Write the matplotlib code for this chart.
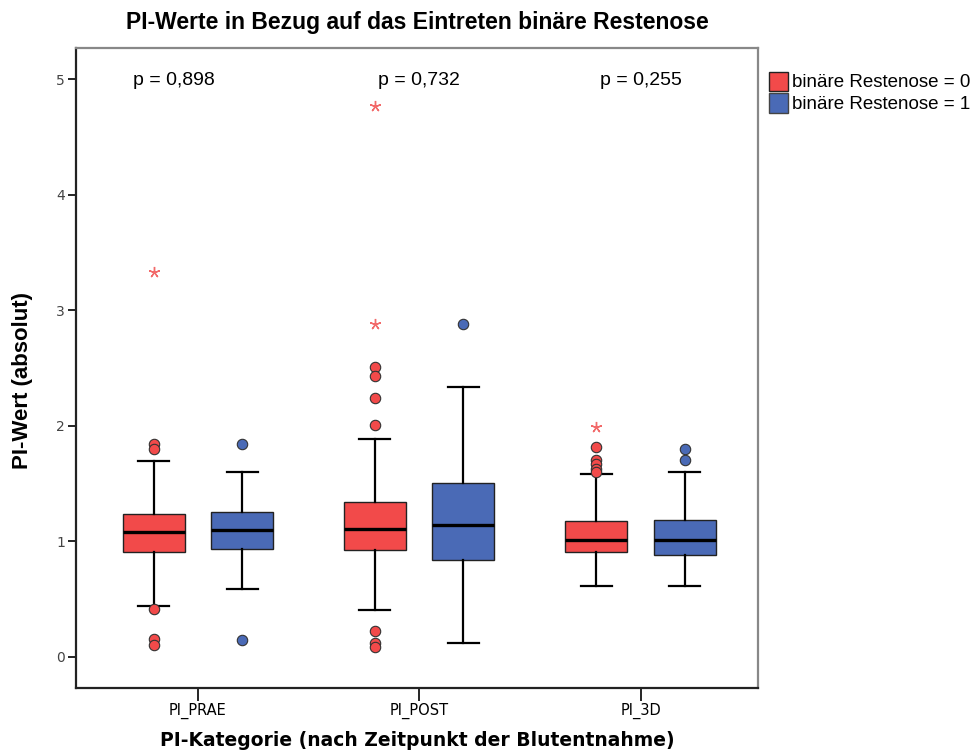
import matplotlib.pyplot as plt
from matplotlib.patches import Patch

# categories and groups
categories = ["PI_PRAE", "PI_POST", "PI_3D"]
groups = ["binäre Restenose = 0", "binäre Restenose = 1"]
p_values = ["p = 0,898", "p = 0,732", "p = 0,255"]

# box statistics per category: (low whisker, q1, median, q3, high whisker)
red_stats = [
    (0.44, 0.906, 1.077, 1.233, 1.697),
    (0.407, 0.921, 1.103, 1.337, 1.888),
    (0.609, 0.904, 1.013, 1.175, 1.579),
]
blue_stats = [
    (0.586, 0.932, 1.10, 1.255, 1.60),
    (0.116, 0.837, 1.143, 1.501, 2.338),
    (0.612, 0.881, 1.013, 1.184, 1.597),
]
# outliers (circles)
red_outliers = [
    [1.841, 1.80, 0.413, 0.15, 0.10],
    [2.511, 2.43, 2.237, 2.003, 0.225, 0.121, 0.087],
    [1.813, 1.703, 1.665, 1.63, 1.60],
]
blue_outliers = [
    [1.84, 0.142],
    [2.878],
    [1.796, 1.70],
]
# extreme values (stars)
red_extremes = [[3.33], [4.765, 2.878], [1.986]]
blue_extremes = [[], [], []]

red = "#F24A4A"
blue = "#4A6AB6"

plt.rcParams['font.family'] = ['Liberation Sans', 'DejaVu Sans']
fig = plt.figure(figsize=(9.76, 7.53), dpi=100)
ax = fig.add_axes([0.0779, 0.0863, 0.6987, 0.85])

offset = 0.2
width = 0.28


def make_stats(stats, outliers):
    out = []
    for (lo, q1, med, q3, hi), fl in zip(stats, outliers):
        out.append(dict(whislo=lo, q1=q1, med=med, q3=q3, whishi=hi, fliers=fl))
    return out


for stats, outl, extr, color, sign in [(red_stats, red_outliers, red_extremes, red, -1),
                                       (blue_stats, blue_outliers, blue_extremes, blue, 1)]:
    pos = [i + sign * offset for i in range(len(categories))]
    ax.bxp(make_stats(stats, outl), positions=pos, widths=width, patch_artist=True,
           boxprops=dict(facecolor=color, edgecolor="#222222", linewidth=1.0),
           medianprops=dict(color="black", linewidth=2.4),
           whiskerprops=dict(color="black", linewidth=1.6),
           capprops=dict(color="black", linewidth=1.6),
           capwidths=0.14,
           flierprops=dict(marker="o", markerfacecolor=color, markeredgecolor="#333333",
                           markersize=7.5, markeredgewidth=0.8),
           manage_ticks=False)
    for x, vals in zip(pos, extr):
        if vals:
            ax.plot([x] * len(vals), vals, linestyle="none", marker=(5, 2, 0),
                    markersize=8, markeredgecolor="#F26A6A", markeredgewidth=1.0)

p_x = [-0.11, 1.0, 2.0]
for xs, txt in zip(p_x, p_values):
    ax.text(xs, 4.99, txt, ha="center", va="center", fontsize=14)

ax.set_xlim(-0.55, 2.53)
ax.set_ylim(-0.27, 5.27)
ax.set_xticks(range(len(categories)))
ax.set_xticklabels(categories, family=['DejaVu Sans'], fontsize=10.5)
ax.set_yticks([0, 1, 2, 3, 4, 5])
ax.set_yticklabels(["0", "1", "2", "3", "4", "5"], family=['DejaVu Sans'],
                   fontsize=10, color="#444444")
ax.tick_params(axis="y", length=6, width=1.2, pad=2)
ax.tick_params(axis="x", length=9, width=1.2, pad=2)

for side in ["left", "bottom"]:
    ax.spines[side].set_linewidth(1.6)
    ax.spines[side].set_color("#222222")
for side in ["top", "right"]:
    ax.spines[side].set_linewidth(1.6)
    ax.spines[side].set_color("#888888")

ax.set_title("PI-Werte in Bezug auf das Eintreten binäre Restenose", fontsize=16.5,
             fontweight="bold", pad=14)
ax.set_ylabel("PI-Wert (absolut)", fontsize=16, fontweight="bold")
ax.yaxis.set_label_coords(-0.063, 0.481)
ax.set_xlabel("PI-Kategorie (nach Zeitpunkt der Blutentnahme)", fontsize=13.5,
              family=['DejaVu Sans'], fontweight="semibold", labelpad=8)

handles = [Patch(facecolor=red, edgecolor="#222222"), Patch(facecolor=blue, edgecolor="#444444")]
fig.legend(handles, groups, loc="upper left", bbox_to_anchor=(0.788, 0.905), frameon=False,
           fontsize=13.5, handlelength=1.0, handleheight=1.2, handletextpad=0.2,
           labelspacing=0.1, borderaxespad=0, borderpad=0)

fig.savefig("out.png", dpi=100)
